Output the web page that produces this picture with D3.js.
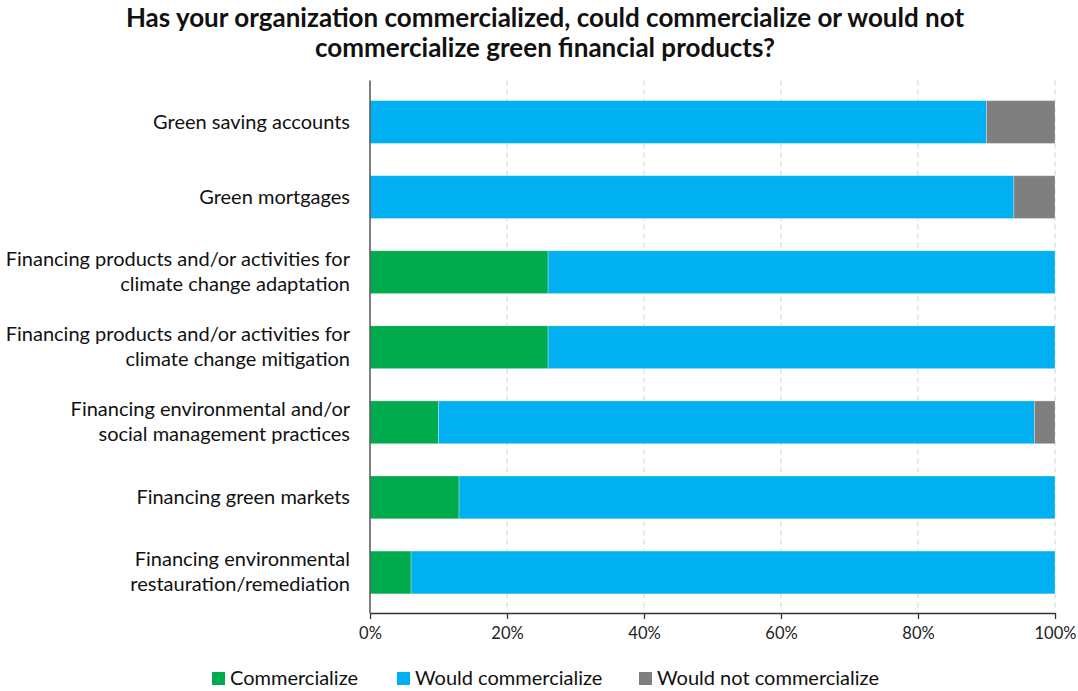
<!DOCTYPE html>
<html>
<head>
<meta charset="utf-8">
<script src="https://cdn.jsdelivr.net/npm/d3@7"></script>
<style>
  html, body { margin: 0; padding: 0; background: #fff; }
  svg { display: block; font-family: Lato, "Open Sans", sans-serif; }
</style>
</head>
<body>
<svg id="chart" width="1078" height="691"></svg>
<script>
// Product categories, top to bottom (multi-line labels split on "|")
const categories = [
  "Green saving accounts",
  "Green mortgages",
  "Financing products and/or activities for|climate change adaptation",
  "Financing products and/or activities for|climate change mitigation",
  "Financing environmental and/or|social management practices",
  "Financing green markets ",
  "Financing environmental|restauration/remediation"
];

// Shares (%) per category for each answer
const commercialize      = [0, 0, 26, 26, 10, 13, 6];
const wouldCommercialize = [90, 94, 74, 74, 87, 87, 94];
const wouldNot           = [10, 6, 0, 0, 3, 0, 0];

const seriesNames  = ["Commercialize", "Would commercialize", "Would not commercialize"];
const seriesColors = ["#00AB4E", "#00B0F0", "#7F7F7F"];
const tickValues   = [0, 20, 40, 60, 80, 100];

const svg = d3.select("#chart");
const margin = { top: 84.5, right: 23, bottom: 81, left: 370 };
const W = 1078, H = 691;

const rows = categories.map((c, i) => ({
  category: c,
  Commercialize: commercialize[i],
  "Would commercialize": wouldCommercialize[i],
  "Would not commercialize": wouldNot[i]
}));
const stacked = d3.stack().keys(seriesNames)(rows);

const x = d3.scaleLinear().domain([0, 100]).range([margin.left, W - margin.right]);
const y = d3.scaleBand().domain(categories).range([margin.top, H - margin.bottom]).paddingInner(0.43).paddingOuter(0.215);

// Title
svg.append("text")
  .attr("x", 545).attr("text-anchor", "middle")
  .attr("font-weight", "bold").attr("font-size", 26).attr("fill", "#111")
  .selectAll("tspan")
  .data(["Has your organization commercialized, could commercialize or would not",
         "commercialize green financial products?"])
  .join("tspan")
  .attr("x", 545)
  .attr("y", (d, i) => 27 + i * 30)
  .text(d => d);

// Dashed vertical grid
svg.append("g").selectAll("line")
  .data(tickValues.filter(v => v > 0))
  .join("line")
  .attr("x1", d => x(d)).attr("x2", d => x(d))
  .attr("y1", margin.top - 4).attr("y2", H - margin.bottom + 2)
  .attr("stroke", "#d9d9d9").attr("stroke-width", 1.2)
  .attr("stroke-dasharray", "5,4");

// Stacked bars
svg.append("g").selectAll("g")
  .data(stacked)
  .join("g")
  .attr("fill", (d, i) => seriesColors[i])
  .selectAll("rect")
  .data(d => d.filter(s => s[1] - s[0] > 0))
  .join("rect")
  .attr("x", d => x(d[0]))
  .attr("y", d => y(d.data.category))
  .attr("width", d => x(d[1]) - x(d[0]))
  .attr("height", y.bandwidth())
  .attr("stroke", "rgba(255,255,255,0.35)")
  .attr("stroke-width", 0.8);

// Bottom axis
const xAxis = svg.append("g")
  .attr("transform", `translate(0,${H - margin.bottom + 3})`)
  .call(d3.axisBottom(x).tickValues(tickValues).tickFormat(d => d + "%").tickSize(6).tickSizeOuter(0));
xAxis.select(".domain").attr("stroke", "#333").attr("stroke-width", 1.3);
xAxis.selectAll(".tick line").attr("stroke", "#333").attr("stroke-width", 1.3);
xAxis.selectAll(".tick text")
  .attr("font-family", "Lato, sans-serif").attr("font-size", 16.5).attr("fill", "#222").attr("dy", "1.0em");

// Left axis line
svg.append("line")
  .attr("x1", margin.left).attr("x2", margin.left)
  .attr("y1", margin.top - 4).attr("y2", H - margin.bottom + 3)
  .attr("stroke", "#555").attr("stroke-width", 1.5);

// Category labels
const labels = svg.append("g").selectAll("text")
  .data(categories)
  .join("text")
  .attr("text-anchor", "end")
  .attr("font-size", 20)
  .attr("fill", "#111");
labels.each(function(d) {
  const lines = d.split("|");
  const cy = y(d) + y.bandwidth() / 2;
  const lh = 25;
  d3.select(this).selectAll("tspan")
    .data(lines)
    .join("tspan")
    .attr("x", 350)
    .attr("y", (t, i) => cy + (i - (lines.length - 1) / 2) * lh + 6.5)
    .text(t => t);
});

// Legend
const legendX = [212, 397, 639];
const legend = svg.append("g").selectAll("g")
  .data(seriesNames)
  .join("g")
  .attr("transform", (d, i) => `translate(${legendX[i]},672)`);
legend.append("rect")
  .attr("width", 13).attr("height", 13)
  .attr("fill", (d, i) => seriesColors[i]);
legend.append("text")
  .attr("x", 18).attr("y", 13)
  .attr("font-size", 20).attr("fill", "#111")
  .text(d => d);
</script>
</body>
</html>
